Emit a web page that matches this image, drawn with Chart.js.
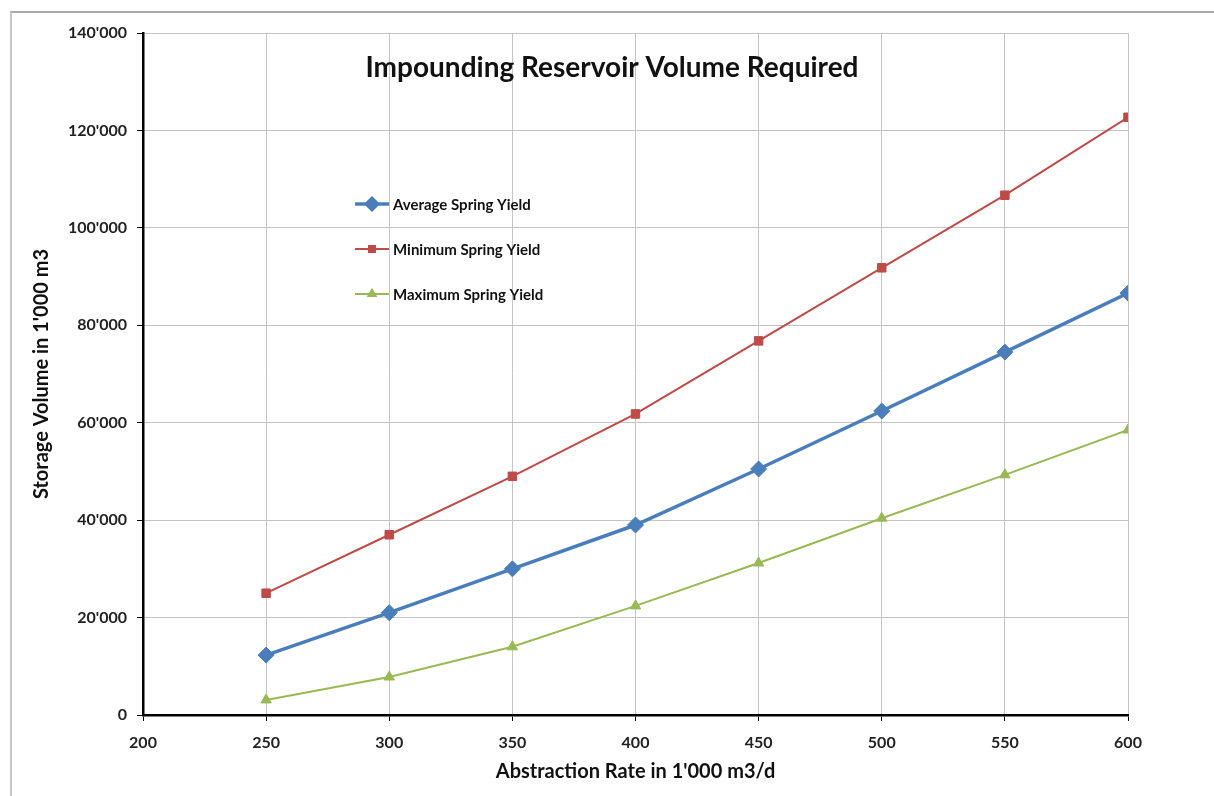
<!DOCTYPE html>
<html>
<head>
<meta charset="utf-8">
<script src="https://cdn.jsdelivr.net/npm/chart.js@4.4.1/dist/chart.umd.min.js"></script>
<style>
  html, body { margin: 0; padding: 0; background: #fff; }
  #wrap { position: relative; width: 1214px; height: 796px; }
  #frame { position: absolute; left: 10px; top: 11px; width: 1204px; height: 785px;
           border-top: 2px solid #a9a9a9; border-left: 2px solid #c8c8c8; box-sizing: border-box; }
  canvas { position: absolute; left: 0; top: 0; }
</style>
</head>
<body>
<div id="wrap">
  <div id="frame"></div>
  <canvas id="reservoir-chart" width="1214" height="796"></canvas>
</div>
<script>
// abstraction rate, 1'000 m3/d
const rates = [250, 300, 350, 400, 450, 500, 550, 600];
// storage volume, 1'000 m3
const averageYield = [12300, 21000, 30000, 39000, 50500, 62400, 74500, 86600];
const minimumYield = [25000, 37000, 49000, 61800, 76800, 91800, 106700, 122700];
const maximumYield = [3100, 7800, 14000, 22400, 31200, 40400, 49300, 58500];

const seriesNames = ['Average Spring Yield', 'Minimum Spring Yield', 'Maximum Spring Yield'];
const chartTitle = 'Impounding Reservoir Volume Required';
const xTitle = "Abstraction Rate in 1'000 m3/d";
const yTitle = "Storage Volume in 1'000 m3";

const FONT = 'Lato, "Open Sans", sans-serif';

const toPoints = (vals) => vals.map((v, i) => ({ x: rates[i], y: v }));
const fmt = (v) => String(v).replace(/\B(?=(\d{3})+(?!\d))/g, "'");

const styles = [
    { color: '#4a7ebb', width: 3.5, shape: 'rectRot', radius: 8 },
    { color: '#be4b48', width: 2, shape: 'rect', radius: 6 },
    { color: '#98b954', width: 2, shape: 'triangle', radius: 6 },
];

// title + legend drawn inside the plot area, like the original
const insidePlugin = {
    id: 'inside',
    afterDraw(chart) {
        const { ctx, chartArea } = chart;
        ctx.save();
        ctx.fillStyle = '#111';
        ctx.font = 'bold 28px ' + FONT;
        ctx.textAlign = 'center';
        ctx.textBaseline = 'middle';
        ctx.fillText(chartTitle, 612, chartArea.top + 35);

        const lx = chartArea.left + 212;
        const ly = chartArea.top + 171;
        chart.data.datasets.forEach((ds, i) => {
            const st = styles[i];
            const y = ly + i * 45;
            ctx.strokeStyle = st.color;
            ctx.lineWidth = st.width;
            ctx.beginPath();
            ctx.moveTo(lx, y);
            ctx.lineTo(lx + 34, y);
            ctx.stroke();
            Chart.helpers.drawPoint(ctx, {
                pointStyle: st.shape, radius: st.radius * 0.7, borderWidth: 1,
            }, lx + 17, y);
            ctx.fillStyle = st.color;
            ctx.fill();
            ctx.fillStyle = '#111';
            ctx.font = 'bold 15px ' + FONT;
            ctx.textAlign = 'left';
            ctx.fillText(ds.label, lx + 38, y + 1);
        });
        ctx.restore();
    }
};

const ctx = document.getElementById('reservoir-chart');
new Chart(ctx, {
    type: 'line',
    data: {
        datasets: [averageYield, minimumYield, maximumYield].map((vals, i) => ({
            label: seriesNames[i],
            data: toPoints(vals),
            borderColor: styles[i].color,
            backgroundColor: styles[i].color,
            borderWidth: styles[i].width,
            pointStyle: styles[i].shape,
            pointRadius: styles[i].radius,
            pointBorderWidth: 1,
            tension: 0,
        }))
    },
    options: {
        responsive: false,
        animation: false,
        layout: { padding: { top: 33, right: 86, left: 0, bottom: 0 } },
        scales: {
            x: {
                type: 'linear',
                min: 200,
                max: 600,
                afterFit: (s) => { s.height = 81; },
                ticks: { stepSize: 50, color: '#222', padding: 12, font: { family: FONT, size: 16, weight: 'bold' } },
                grid: { color: '#c4c4c4', lineWidth: 1, tickColor: '#000', tickLength: 6 },
                border: { color: '#000', width: 2.5 },
                title: { display: true, text: xTitle, color: '#111', padding: { top: 0, bottom: 12 },
                         font: { family: FONT, size: 20, weight: 'bold' } }
            },
            y: {
                min: 0,
                max: 140000,
                afterFit: (s) => { s.width = 143; },
                ticks: { stepSize: 20000, color: '#222', padding: 10, callback: (v) => fmt(v),
                         font: { family: FONT, size: 16, weight: 'bold' } },
                grid: { color: '#c4c4c4', lineWidth: 1, tickColor: '#000', tickLength: 6 },
                border: { color: '#000', width: 2.5 },
                title: { display: true, text: yTitle, color: '#111', padding: { top: 30, bottom: 0 },
                         font: { family: FONT, size: 20, weight: 'bold' } }
            }
        },
        plugins: {
            legend: { display: false },
            tooltip: { enabled: false }
        }
    },
    plugins: [insidePlugin]
});
</script>
</body>
</html>
